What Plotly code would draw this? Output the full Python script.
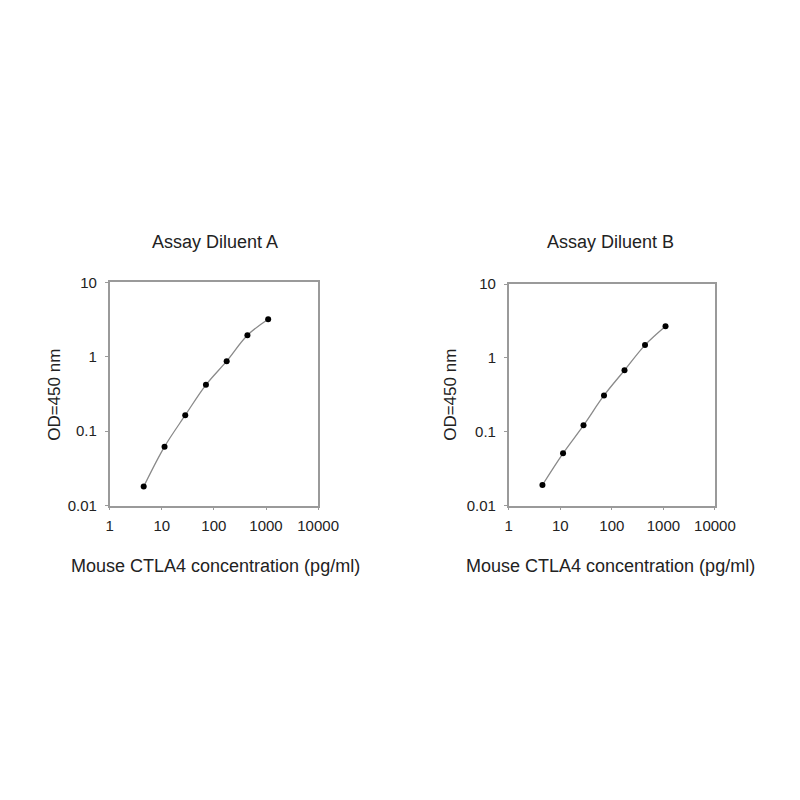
import plotly.graph_objects as go
from plotly.subplots import make_subplots

# Concentrations des standards (pg/ml), dilution 1:2.5
concentration = [4.5, 11.3, 28.2, 70.4, 176, 440, 1100]

# DO à 450 nm
od_diluent_a = [0.018, 0.062, 0.164, 0.42, 0.875, 1.95, 3.2]
od_diluent_b = [0.019, 0.051, 0.122, 0.31, 0.68, 1.49, 2.68]

titres = ["Assay Diluent A", "Assay Diluent B"]
titre_x = "Mouse CTLA4 concentration (pg/ml)"
titre_y = "OD=450 nm"
x_tickvals = [1, 10, 100, 1000, 10000]
x_ticktext = ["1", "10", "100", "1000", "10000"]
y_tickvals = [0.01, 0.1, 1, 10]
y_ticktext = ["0.01", "0.1", "1", "10"]

fig = make_subplots(rows=1, cols=2)

for i, od in enumerate([od_diluent_a, od_diluent_b]):
    fig.add_trace(go.Scatter(
        x=concentration, y=od,
        mode='lines+markers',
        line=dict(color='#8a8a8a', width=1.3, shape='spline'),
        marker=dict(color='black', size=6),
        showlegend=False
    ), row=1, col=i + 1)

police = "Liberation Sans, Arial"
axis_font = dict(family=police, size=15, color='#222222')
title_font = dict(family=police, size=18, color='#222222')
ytitle_font = dict(family=police, size=17, color='#222222')

fig.update_xaxes(
    type='log', range=[0, 4],
    tickvals=x_tickvals, ticktext=x_ticktext,
    showline=True, linecolor='#9a9a9a', linewidth=1.6, mirror=True,
    ticks='outside', ticklen=3, tickcolor='#9a9a9a',
    showgrid=False, zeroline=False, tickfont=axis_font,
    ticklabelstandoff=3
)
fig.update_yaxes(
    type='log', range=[-2, 1],
    tickvals=y_tickvals, ticktext=y_ticktext,
    showline=True, linecolor='#9a9a9a', linewidth=1.6, mirror=True,
    ticks='outside', ticklen=3, tickcolor='#9a9a9a',
    showgrid=False, zeroline=False, tickfont=axis_font,
    ticklabelstandoff=5
)

fig.update_layout(
    width=800, height=800,
    margin=dict(l=0, r=0, t=0, b=0),
    paper_bgcolor='white', plot_bgcolor='white',
    xaxis=dict(domain=[0.126, 0.395]),
    xaxis2=dict(domain=[0.641, 0.907]),
    yaxis=dict(domain=[0.376, 0.661]),
    yaxis2=dict(domain=[0.376, 0.659]),
)

# Titres des graphiques et des axes
for x_centre, x_ytitre, titre in zip([0.262, 0.772], [0.055, 0.566], titres):
    fig.add_annotation(x=x_centre, y=0.713, xref='paper', yref='paper',
                       text=titre, showarrow=False, font=title_font,
                       xanchor='center', yanchor='middle')
    fig.add_annotation(x=x_centre, y=0.299, xref='paper', yref='paper',
                       text=titre_x, showarrow=False, font=title_font,
                       xanchor='center', yanchor='middle')
    fig.add_annotation(x=x_ytitre, y=0.517, xref='paper', yref='paper',
                       text=titre_y, showarrow=False, font=ytitle_font,
                       textangle=-90, xanchor='center', yanchor='middle')

fig.write_html("out.html")
